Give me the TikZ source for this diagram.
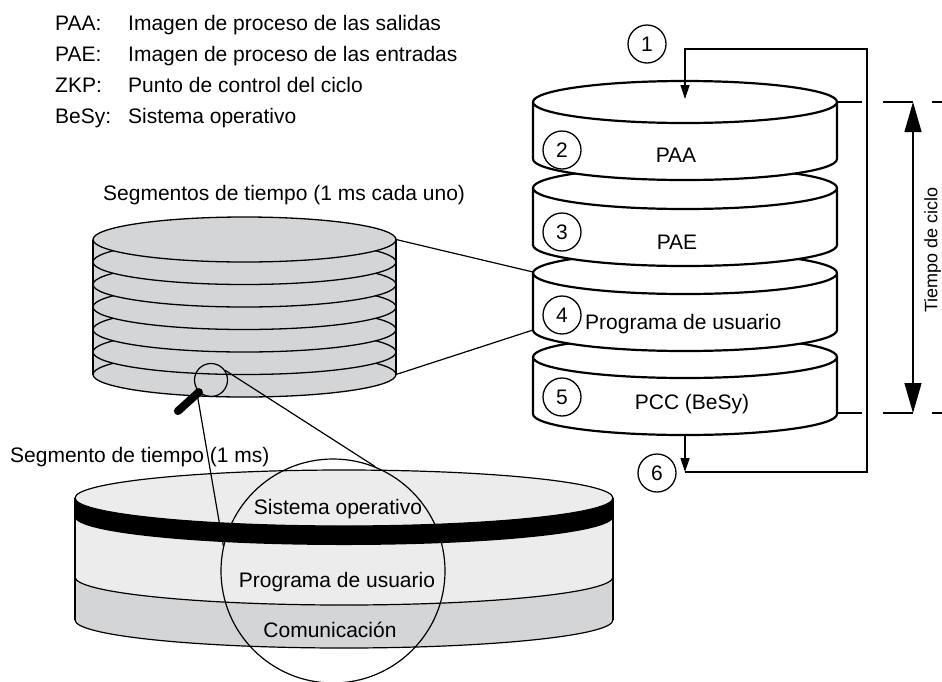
\documentclass[tikz,border=0pt]{standalone}
\usepackage{fontspec}
\setmainfont{Liberation Sans}
\usetikzlibrary{arrows.meta}
\definecolor{gris}{HTML}{D3D5D7}
\definecolor{grisclaro}{HTML}{ECECEC}

\begin{document}
\begin{tikzpicture}[x=1pt, y=-1pt, >={Triangle[length=14pt,width=9pt]},
  every node/.style={font=\fontsize{21}{25}\selectfont, inner sep=0pt},
  num/.style={draw, circle, line width=1.3pt, minimum size=38pt},
  disco/.style={fill=white, line width=2.2pt},
  seg/.style={fill=gris, line width=1.3pt},
  fina/.style={line width=1.2pt},
  flecha/.tip={Triangle[length=30pt,width=17pt]}]
  \clip (0,0) rectangle (942,681);

  % 1. Leyenda
  \node[anchor=base west] (lpaa) at (55,30) {PAA:};
  \node[anchor=base west] (tpaa) at (128,30) {Imagen de proceso de las salidas};
  \node[anchor=base west] (lpae) at (55,61) {PAE:};
  \node[anchor=base west] (tpae) at (128,61) {Imagen de proceso de las entradas};
  \node[anchor=base west] (lzkp) at (55,92) {ZKP:};
  \node[anchor=base west] (tzkp) at (128,92) {Punto de control del ciclo};
  \node[anchor=base west] (lbesy) at (55,123) {BeSy:};
  \node[anchor=base west] (tbesy) at (128,123) {Sistema operativo};

  % 2. Pila de discos del ciclo (de abajo arriba)
  \foreach \t in {357,273,188,102}
    \draw[disco] (533,\t) arc[start angle=180, end angle=360, x radius=152, y radius=21]
      -- (837,\t+57) arc[start angle=0, end angle=180, x radius=152, y radius=21] -- cycle
      (533,\t) arc[start angle=180, end angle=0, x radius=152, y radius=21];
  \coordinate (ent) at (685,99);
  \coordinate (sal) at (685,435);
  \coordinate (d4a) at (533,272);
  \coordinate (d4b) at (533,330);

  \node[num] (n1) at (647,44) {1};
  \node[num] (n2) at (562,150) {2};
  \node[num] (n3) at (562,232) {3};
  \node[num] (n4) at (562,315) {4};
  \node[num] (n5) at (562,397) {5};
  \node[num] (n6) at (657,473) {6};
  \node[anchor=base] (paa) at (676,162.5) {PAA};
  \node[anchor=base] (pae) at (677,249.5) {PAE};
  \node[anchor=base west] (prog) at (585,329.5) {Programa de usuario};
  \node[anchor=base] (pcc) at (692,409.5) {PCC (BeSy)};

  % 3. Lazo del ciclo
  \draw[fina,->] (sal) -- (685,472);
  \draw[fina,->] (685,472) -- (867,472) -- (867,49) -| (ent);

  % 4. Cota del tiempo de ciclo
  \draw[fina] (837,102) -- (862,102) (883,102) -- (913,102) (932,102) -- (942,102);
  \draw[fina] (837,413) -- (862,413) (883,413) -- (913,413) (932,413) -- (942,413);
  \draw[fina, flecha-flecha] (913,102) -- (913,413);
  \node[rotate=90, anchor=north, font=\fontsize{18}{22}\selectfont] (tciclo) at (924,250) {Tiempo de ciclo};

  % 5. Segmentos de tiempo
  \node[anchor=base west] (tseg) at (103,200.5) {Segmentos de tiempo (1 ms cada uno)};
  \fill[gris] (93,239.5) rectangle (396,374.5);
  \foreach \k in {6,...,0}
    \draw[seg] (244.5,{239.5+22.5*\k}) ellipse[x radius=151.5, y radius=22.5];
  \draw[line width=1.3pt] (93,239.5) -- (93,374.5) (396,239.5) -- (396,374.5);
  \coordinate (segA) at (396,239.5);
  \coordinate (segB) at (396,374.5);
  \draw[fina] (segA) -- (d4a);
  \draw[fina] (segB) -- (d4b);

  % lupa
  \node[draw, circle, line width=1.2pt, minimum size=33pt] (lupa) at (211,380) {};
  \draw[line width=8pt, line cap=round] (lupa.225) -- ++(-21,19);

  % 6. Segmento de tiempo ampliado
  \node[anchor=base west] (tseg1) at (10,462) {Segmento de tiempo (1 ms)};
  \fill[grisclaro] (75,498) arc[start angle=180, end angle=360, x radius=269, y radius=28]
    -- (613,620) arc[start angle=0, end angle=180, x radius=269, y radius=28] -- cycle;
  \fill[gris] (75,577) arc[start angle=180, end angle=0, x radius=269, y radius=28]
    -- (613,620) arc[start angle=0, end angle=180, x radius=269, y radius=28] -- cycle;
  \fill[black] (75,498) arc[start angle=180, end angle=0, x radius=269, y radius=28]
    -- (613,517) arc[start angle=0, end angle=180, x radius=269, y radius=28] -- cycle;
  \draw[fina] (344,498) ellipse[x radius=269, y radius=28];
  \draw[fina] (75,498) -- (75,620) (613,498) -- (613,620);
  \draw[fina] (75,577) arc[start angle=180, end angle=0, x radius=269, y radius=28];
  \draw[fina] (75,620) arc[start angle=180, end angle=0, x radius=269, y radius=28];
  \node[anchor=base] (sisop) at (338,514.5) {Sistema operativo};
  \node[anchor=base] (progu) at (337,587.5) {Programa de usuario};
  \node[anchor=base] (comu) at (330,637.5) {Comunicación};

  % circulo de ampliacion
  \node[draw, circle, line width=1.2pt, minimum size=224pt] (ampl) at (333,571) {};
  \draw[fina] (lupa.210) -- (ampl.167);
  \draw[fina] (lupa.35) -- (ampl.68);
\end{tikzpicture}
\end{document}
